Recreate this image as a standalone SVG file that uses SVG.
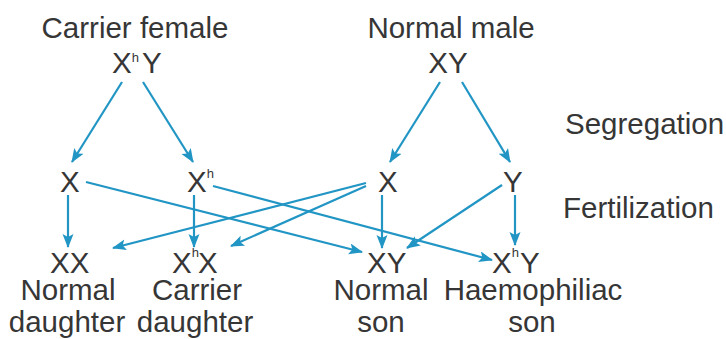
<svg xmlns="http://www.w3.org/2000/svg" width="726" height="339" viewBox="0 0 726 339">
  <style>
    text { font-family: "Liberation Sans", Arial, sans-serif; fill: #363636; }
    .lbl { font-size: 29.5px; }
    .mid { text-anchor: middle; }
    .sup { font-size: 13px; }
    .arrow { stroke: #2195c4; stroke-width: 2.2; fill: none; marker-end: url(#head); }
  </style>
  <defs>
    <marker id="head" markerUnits="userSpaceOnUse" markerWidth="16" markerHeight="12" refX="13" refY="5.5" orient="auto">
      <path d="M0,0 L14,5.5 L0,11 L3,5.5 z" fill="#2195c4"/>
    </marker>
  </defs>
  <rect width="726" height="339" fill="#ffffff"/>

  <!-- connectors -->
  <g id="connectors">
    <line class="arrow" x1="122" y1="82" x2="72" y2="162"/>
    <line class="arrow" x1="143" y1="82" x2="193" y2="162"/>
    <line class="arrow" x1="440" y1="82" x2="390" y2="162"/>
    <line class="arrow" x1="462" y1="82" x2="510" y2="162"/>
    <line class="arrow" x1="68" y1="195" x2="68" y2="247"/>
    <line class="arrow" x1="194" y1="195" x2="194" y2="247"/>
    <line class="arrow" x1="382" y1="195" x2="382" y2="248"/>
    <line class="arrow" x1="515" y1="195" x2="515" y2="245"/>
    <line class="arrow" x1="366" y1="183" x2="113" y2="248"/>
    <line class="arrow" x1="366" y1="186" x2="231" y2="246"/>
    <line class="arrow" x1="86" y1="182" x2="362" y2="252"/>
    <line class="arrow" x1="213" y1="186" x2="492" y2="260"/>
    <line class="arrow" x1="502" y1="185" x2="407" y2="248"/>
  </g>

  <!-- parents -->
  <g id="carrier-female">
    <text class="lbl mid" x="135" y="38">Carrier female</text>
    <text class="lbl" x="112" y="73">X<tspan class="sup" dy="-11">h</tspan><tspan dx="3" dy="11">Y</tspan></text>
  </g>
  <g id="normal-male">
    <text class="lbl mid" x="451" y="38">Normal male</text>
    <text class="lbl mid" x="448" y="73">XY</text>
  </g>

  <!-- gametes -->
  <g id="gamete-x-mother">
    <text class="lbl" x="60" y="192">X</text>
  </g>
  <g id="gamete-xh-mother">
    <text class="lbl" x="187" y="192">X<tspan class="sup" dy="-14">h</tspan></text>
  </g>
  <g id="gamete-x-father">
    <text class="lbl" x="378" y="192">X</text>
  </g>
  <g id="gamete-y-father">
    <text class="lbl" x="503" y="192">Y</text>
  </g>

  <!-- offspring -->
  <g id="normal-daughter">
    <text class="lbl" x="50" y="273">XX</text>
    <text class="lbl mid" x="68" y="300">Normal</text>
    <text class="lbl mid" x="67" y="332">daughter</text>
  </g>
  <g id="carrier-daughter">
    <text class="lbl" x="172" y="273">X<tspan class="sup" dy="-16">h</tspan><tspan dx="-1" dy="16">X</tspan></text>
    <text class="lbl mid" x="197" y="300">Carrier</text>
    <text class="lbl mid" x="195" y="332">daughter</text>
  </g>
  <g id="normal-son">
    <text class="lbl" x="367" y="273">XY</text>
    <text class="lbl mid" x="381" y="300">Normal</text>
    <text class="lbl mid" x="381" y="332">son</text>
  </g>
  <g id="haemophiliac-son">
    <text class="lbl" x="492" y="273">X<tspan class="sup" dy="-16">h</tspan><tspan dx="1" dy="16">Y</tspan></text>
    <text class="lbl mid" x="533" y="300">Haemophiliac</text>
    <text class="lbl mid" x="532" y="332">son</text>
  </g>

  <!-- stage labels -->
  <g id="stage-segregation">
    <text class="lbl" x="565" y="134">Segregation</text>
  </g>
  <g id="stage-fertilization">
    <text class="lbl" x="563" y="218">Fertilization</text>
  </g>
</svg>
